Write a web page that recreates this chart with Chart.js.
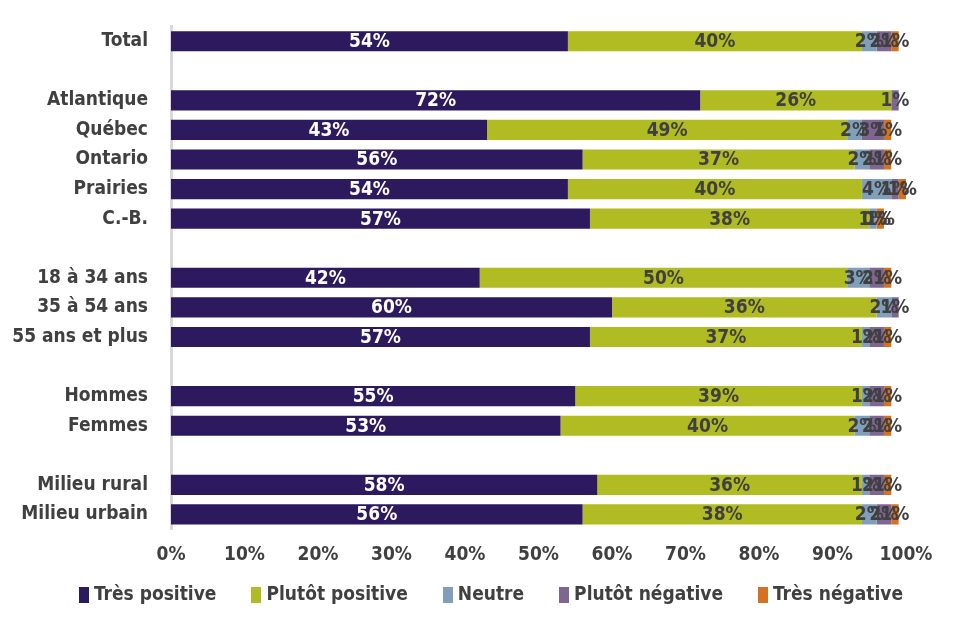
<!DOCTYPE html>
<html>
<head>
<meta charset="utf-8">
<script src="https://cdn.jsdelivr.net/npm/chart.js@4"></script>
<style>
  html, body { margin: 0; padding: 0; background: #fff; }
  #wrap { width: 960px; height: 641px; position: relative; }
  #zone { position: absolute; left: 0; top: 0; width: 960px; height: 583px; }
  #legende {
    position: absolute; left: 22px; top: 578px; width: 938px; height: 30px;
    display: flex; justify-content: center; align-items: center; gap: 35px;
    font: bold 19px 'Liberation Sans Narrow', 'DejaVu Sans Condensed', sans-serif;
    color: #404040;
  }
  #legende span.item { display: flex; align-items: center; }
  #legende span.carre { display: inline-block; width: 10px; height: 16px; margin-right: 5px; margin-top: 3px; }
</style>
</head>
<body>
<div id="wrap">
  <div id="zone"><canvas id="graphique"></canvas></div>
  <div id="legende"></div>
</div>
<script>
// categories (empty strings are spacer rows between groups)
const categories = ['Total', '', 'Atlantique', 'Québec', 'Ontario', 'Prairies', 'C.-B.', '',
  '18 à 34 ans', '35 à 54 ans', '55 ans et plus', '', 'Hommes', 'Femmes', '', 'Milieu rural', 'Milieu urbain'];

const tresPositive    = [54, null, 72, 43, 56, 54, 57, null, 42, 60, 57, null, 55, 53, null, 58, 56];
const plutotPositive  = [40, null, 26, 49, 37, 40, 38, null, 50, 36, 37, null, 39, 40, null, 36, 38];
const neutre          = [2, null, null, 2, 2, 4, 1, null, 3, 2, 1, null, 1, 2, null, 1, 2];
const plutotNegative  = [2, null, 1, 3, 2, 1, 0, null, 2, 1, 2, null, 2, 2, null, 2, 2];
const tresNegative    = [1, null, null, 1, 1, 1, 1, null, 1, null, 1, null, 1, 1, null, 1, 1];

const xTicks = [0, 10, 20, 30, 40, 50, 60, 70, 80, 90, 100];

const police = "'Liberation Sans Narrow', 'DejaVu Sans Condensed', sans-serif";
const gris = '#404040';
const taille = 19;

const series = [
  { label: 'Très positive', data: tresPositive, couleur: '#2d1a5e', texte: '#ffffff' },
  { label: 'Plutôt positive', data: plutotPositive, couleur: '#b1bb22', texte: gris },
  { label: 'Neutre', data: neutre, couleur: '#809fba', texte: gris },
  { label: 'Plutôt négative', data: plutotNegative, couleur: '#7f6591', texte: gris },
  { label: 'Très négative', data: tresNegative, couleur: '#d4721f', texte: gris }
];

// étiquettes au centre de chaque segment
const etiquettes = {
  id: 'etiquettes',
  afterDatasetsDraw(chart) {
    const ctx = chart.ctx;
    ctx.save();
    ctx.font = 'bold ' + taille + 'px ' + police;
    ctx.textAlign = 'center';
    ctx.textBaseline = 'middle';
    chart.data.datasets.forEach((ds, i) => {
      const meta = chart.getDatasetMeta(i);
      meta.data.forEach((bar, j) => {
        const v = ds.data[j];
        if (v === null || v === undefined) return;
        ctx.fillStyle = series[i].texte;
        ctx.fillText(Math.round(v) + '%', (bar.x + bar.base) / 2, bar.y + 1);
      });
    });
    ctx.restore();
  }
};

const graphique = new Chart(document.getElementById('graphique'), {
  type: 'bar',
  data: {
    labels: categories,
    datasets: series.map(s => ({
      label: s.label,
      data: s.data,
      backgroundColor: s.couleur,
      borderWidth: 0,
      barPercentage: 0.68,
      categoryPercentage: 1
    }))
  },
  options: {
    indexAxis: 'y',
    responsive: true,
    maintainAspectRatio: false,
    animation: false,
    layout: { padding: { top: 7, right: 54, left: 10, bottom: 3 } },
    scales: {
      x: {
        stacked: true,
        min: 0,
        max: 100,
        afterBuildTicks: scale => { scale.ticks = xTicks.map(v => ({ value: v })); },
        ticks: {
          callback: v => v + '%',
          color: gris,
          font: { family: police, size: taille, weight: 'bold' },
          padding: 14,
          maxRotation: 0
        },
        grid: { display: false, drawTicks: false },
        border: { display: false }
      },
      y: {
        stacked: true,
        afterFit: scale => { scale.width = 161; },
        ticks: {
          color: gris,
          font: { family: police, size: taille, weight: 'bold' },
          padding: 15,
          autoSkip: false
        },
        grid: { display: false },
        border: { color: '#d9d9d9', width: 3 }
      }
    },
    plugins: {
      legend: { display: false },
      tooltip: { enabled: false }
    }
  },
  plugins: [etiquettes]
});

// légende HTML sous le graphique
const legende = document.getElementById('legende');
graphique.data.datasets.forEach(ds => {
  const item = document.createElement('span');
  item.className = 'item';
  item.innerHTML = `<span class="carre" style="background:${ds.backgroundColor}"></span>${ds.label}`;
  legende.appendChild(item);
});
</script>
</body>
</html>
